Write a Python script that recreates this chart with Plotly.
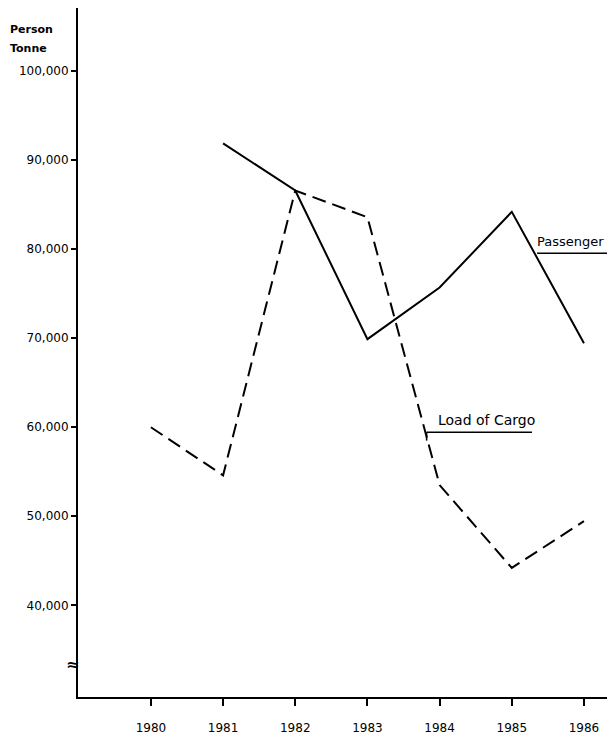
import plotly.graph_objects as go

years = [1980, 1981, 1982, 1983, 1984, 1985, 1986]
passenger = [None, 91900, 86600, 69900, 75700, 84200, 69450]
cargo = [60000, 54600, 86600, 83600, 53500, 44200, 49450]

y_tickvals = [40000, 50000, 60000, 70000, 80000, 90000, 100000]
y_ticktext = ["40,000", "50,000", "60,000", "70,000", "80,000", "90,000", "100,000"]
x_ticktext = [str(y) for y in years]

FONT = "DejaVu Sans"

fig = go.Figure()
fig.add_trace(go.Scatter(x=years, y=passenger, mode="lines", name="Passenger",
                         line=dict(color="black", width=2), connectgaps=False))
fig.add_trace(go.Scatter(x=years, y=cargo, mode="lines", name="Load of Cargo",
                         line=dict(color="black", width=2, dash="14px,7px")))

# leader lines for labels
fig.add_shape(type="line", x0=1985.35, x1=1986.39, y0=79550, y1=79550,
              line=dict(color="black", width=1.5))
fig.add_shape(type="line", x0=1983.82, x1=1985.28, y0=59440, y1=59440,
              line=dict(color="black", width=1.5))
fig.add_shape(type="line", x0=1983.82, x1=1983.82, y0=59440, y1=58500,
              line=dict(color="black", width=1.5))

fig.add_annotation(x=1985.37, y=79750, text="Passenger", showarrow=False,
                   xanchor="left", yanchor="bottom", xshift=-3,
                   font=dict(size=13, color="black", family=FONT))
fig.add_annotation(x=1983.99, y=59650, text="Load of Cargo", showarrow=False,
                   xanchor="left", yanchor="bottom", xshift=-3,
                   font=dict(size=14, color="black", family=FONT))

fig.add_annotation(xref="paper", yref="paper", x=-0.13, y=0.981, text="<b>Person</b>",
                   showarrow=False, xanchor="left", yanchor="top", align="left",
                   font=dict(size=11, color="black", family=FONT))
fig.add_annotation(xref="paper", yref="paper", x=-0.13, y=0.954, text="<b>Tonne</b>",
                   showarrow=False, xanchor="left", yanchor="top", align="left",
                   font=dict(size=11, color="black", family=FONT))

# axis break symbol
fig.add_annotation(xref="paper", x=0, y=33300, text="<b>≈</b>", showarrow=False,
                   xanchor="right", xshift=3, font=dict(size=16, color="black", family=FONT))

fig.update_layout(
    width=607, height=730,
    margin=dict(l=70, r=0, t=0, b=41),
    paper_bgcolor="white", plot_bgcolor="white",
    showlegend=False,
    font=dict(family=FONT, size=12, color="black"),
)
fig.update_xaxes(range=[1978.99, 1986.43], tickvals=years, ticktext=x_ticktext,
                 showgrid=False, zeroline=False, showline=True, linecolor="black", linewidth=2,
                 ticks="outside", ticklen=7, tickwidth=1.5, tickcolor="black",
                 ticklabelstandoff=12,
                 tickfont=dict(size=12, family=FONT))
fig.update_yaxes(range=[29700, 107100], tickvals=y_tickvals, ticktext=y_ticktext,
                 showgrid=False, zeroline=False, showline=True, linecolor="black", linewidth=2,
                 ticks="outside", ticklen=5, tickwidth=1.5, tickcolor="black",
                 tickfont=dict(size=12, family=FONT))

fig.write_html("out.html")
